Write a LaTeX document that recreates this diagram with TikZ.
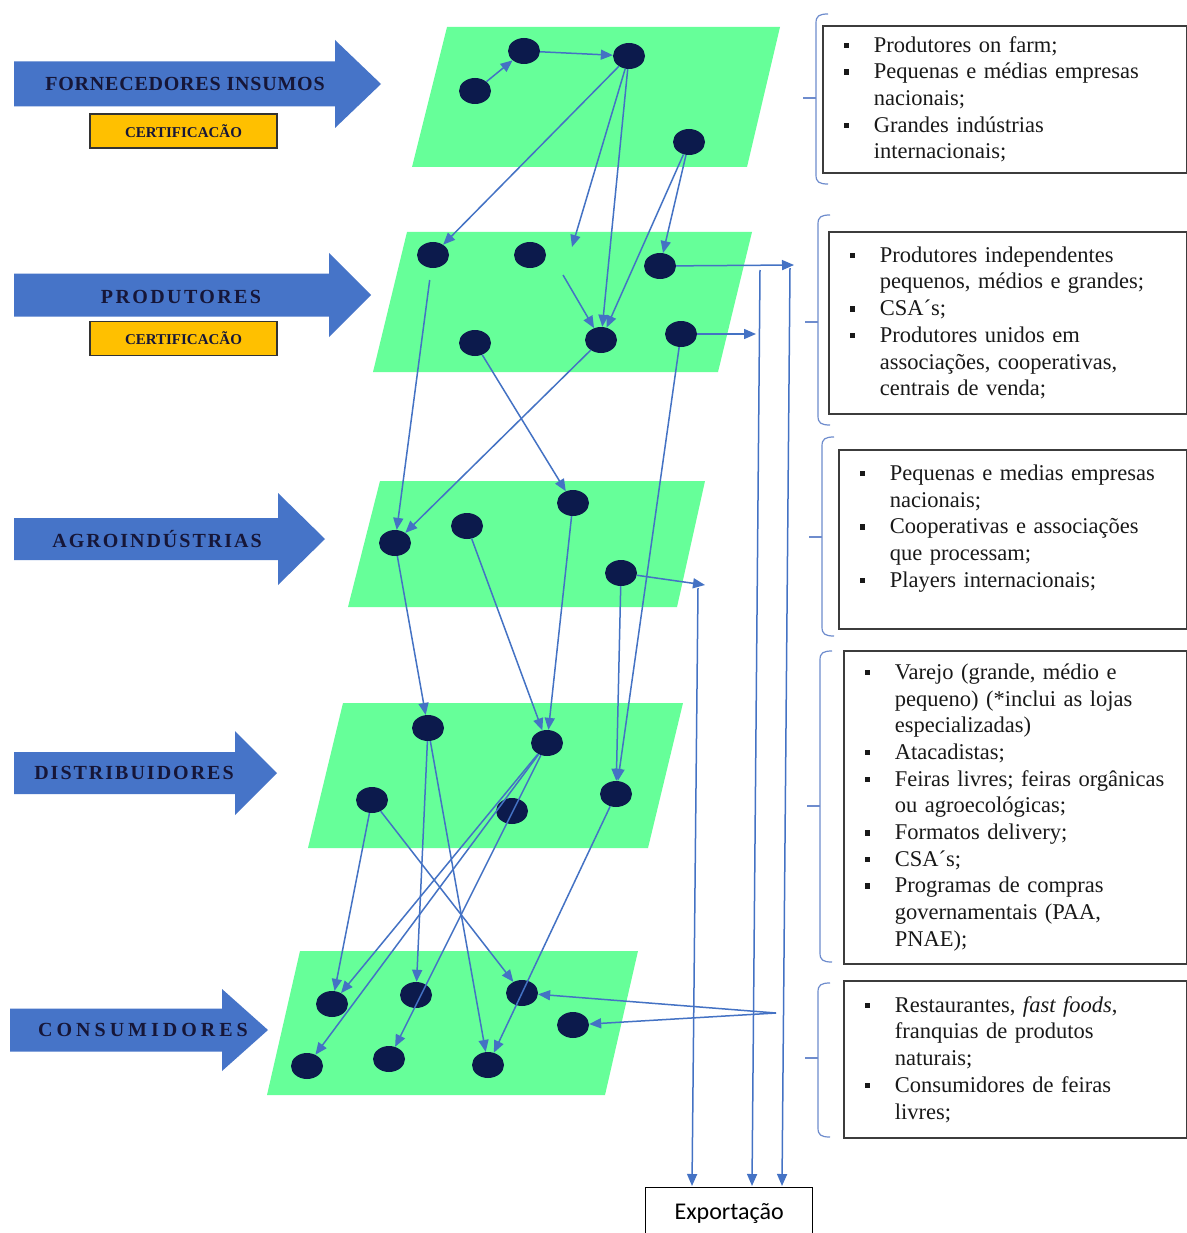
\documentclass[tikz,border=0pt]{standalone}
\usepackage{fontspec}
\setmainfont{Liberation Serif}
\newfontfamily\expfont{Carlito}
\usetikzlibrary{arrows.meta,shapes.geometric}

\definecolor{plategreen}{RGB}{102,255,153}
\definecolor{dotnavy}{RGB}{12,26,76}
\definecolor{linkblue}{RGB}{68,114,196}
\definecolor{arrowblue}{RGB}{70,116,200}
\definecolor{certorange}{RGB}{255,192,0}
\definecolor{bracecol}{RGB}{110,140,205}
\definecolor{labelnavy}{RGB}{22,22,56}
\definecolor{boxedge}{RGB}{60,60,60}

\tikzset{
  plate/.style={fill=plategreen},
  dot/.style={ellipse, fill=dotnavy, minimum width=32pt, minimum height=26pt, inner sep=0pt},
  link/.style={draw=linkblue, line width=1.5pt, -{Triangle[length=12pt,width=10pt]}},
  stagelabel/.style={font=\fontsize{20}{24}\selectfont\bfseries, text=labelnavy, inner sep=0pt},
  cert/.style={draw=black!80, line width=1.2pt, fill=certorange, minimum width=187pt, minimum height=34pt,
    font=\fontsize{15}{18}\selectfont\bfseries, text=labelnavy, inner sep=0pt},
  listbox/.style={draw=boxedge, line width=1.8pt, anchor=north west, align=left, inner xsep=21pt,
    inner ysep=0pt, font=\fontsize{22.5}{26.7}\selectfont, text=black!90},
  brace/.style={draw=bracecol, line width=1.2pt},
}

% bullet and hanging indent for the lists
\newcommand{\bul}{\makebox[30pt][l]{\raisebox{4pt}{\rule{5.5pt}{5.5pt}}}}
\newcommand{\ind}{\hspace*{30pt}}
% letter spaced caps
\newcommand{\spaced}[2]{{\addfontfeature{LetterSpace=#1}#2}}
% block arrow: left x, head base x, tip x, mid y, body half, head half
\newcommand{\stagearrow}[6]{%
  \fill[arrowblue] (#1,#4-#5) -- (#2,#4-#5) -- (#2,#4-#6) -- (#3,#4) -- (#2,#4+#6) -- (#2,#4+#5) -- (#1,#4+#5) -- cycle;}
% side bracket: x, top, bottom, tick y
\newcommand{\sidebrace}[4]{%
  \draw[brace] (#1+12,#2) .. controls (#1+3,#2) and (#1,#2+2) .. (#1,#2+9) -- (#1,#3-9)
    .. controls (#1,#3-2) and (#1+3,#3) .. (#1+12,#3);
  \draw[brace] (#1,#4) -- (#1-13,#4);}

\begin{document}
\begin{tikzpicture}[x=1pt,y=-1pt]
\useasboundingbox (0,0) rectangle (1186,1233);
\fill[white] (0,0) rectangle (1186,1233);

%Stage arrows
\stagearrow{14}{335}{381}{84}{22.5}{44}
\stagearrow{14}{329}{371}{295}{21.5}{42}
\stagearrow{14}{278}{325}{539}{21}{46}
\stagearrow{14}{235}{277}{773}{21}{42}
\stagearrow{10}{222}{268}{1030}{21.5}{41}
\node[stagelabel] (lforn) at (185,84) {\spaced{4}{FORNECEDORES INSUMOS}};
\node[stagelabel] (lprod) at (181,297) {\spaced{12}{PRODUTORES}};
\node[stagelabel] (lagro) at (157,539) {\spaced{10}{AGROINDÚSTRIAS}};
\node[stagelabel] (ldist) at (134,773) {\spaced{10}{DISTRIBUIDORES}};
\node[stagelabel] (lcons) at (143,1030) {\spaced{20}{CONSUMIDORES}};
\node[cert] (cert1) at (183.5,131) {CERTIFICACÃO};
\node[cert] (cert2) at (183.5,338.5) {CERTIFICACÃO};

%Plates
\fill[plate] (447,27) -- (780,27) -- (747,167) -- (412,167) -- cycle;
\fill[plate] (407,232) -- (752,232) -- (718,372) -- (373,372) -- cycle;
\fill[plate] (380,481) -- (705,481) -- (677,607) -- (348,607) -- cycle;
\fill[plate] (343,703) -- (683,703) -- (648,848) -- (308,848) -- cycle;
\fill[plate] (300,951) -- (638,951) -- (605,1095) -- (267,1095) -- cycle;

%Dots: fornecedores
\node[dot] (a1) at (475,91) {};
\node[dot] (a2) at (524,51) {};
\node[dot] (a3) at (629,56) {};
\node[dot] (a4) at (689,142) {};
%Dots: produtores
\node[dot] (b1) at (433,255) {};
\node[dot] (b2) at (530,255) {};
\node[dot] (b3) at (660,266) {};
\node[dot] (b4) at (475,343) {};
\node[dot] (b5) at (601,340) {};
\node[dot] (b6) at (681,334) {};
%Dots: agroindustrias
\node[dot] (c1) at (395,543) {};
\node[dot] (c2) at (467,526) {};
\node[dot] (c3) at (573,503) {};
\node[dot] (c4) at (621,573) {};
%Dots: distribuidores
\node[dot] (d1) at (428,728) {};
\node[dot] (d2) at (547,743) {};
\node[dot] (d3) at (372,800) {};
\node[dot] (d4) at (512,811) {};
\node[dot] (d5) at (616,794) {};
%Dots: consumidores
\node[dot] (e1) at (332,1004) {};
\node[dot] (e2) at (416,995) {};
\node[dot] (e3) at (522,993) {};
\node[dot] (e4) at (573,1025) {};
\node[dot] (e5) at (307,1066) {};
\node[dot] (e6) at (389,1059) {};
\node[dot] (e7) at (488,1065) {};

%Free ends
\coordinate (gapin) at (572,247);
\coordinate (gapout) at (563,275);
\coordinate (b3out) at (794,265);
\coordinate (b6out) at (756,334);
\coordinate (c4out) at (705,585);
\coordinate (b3down) at (790,268);
\coordinate (b6down) at (760,270);
\coordinate (c4down) at (698,588);
\coordinate (feira) at (776,1013);

%Exportacao
\node[draw=black, line width=1.3pt, anchor=north west, minimum width=167pt, minimum height=52pt,
  inner sep=0pt, font=\expfont\fontsize{24}{28}\selectfont] (exp) at (645,1187) {Exportação};
\coordinate (expA) at (692,1186);
\coordinate (expB) at (752,1186);
\coordinate (expC) at (782,1186);

%Connectors
\draw[link] (a1) -- (a2);
\draw[link] (a2) -- (a3);
\draw[link] (a3) -- (b1);
\draw[link] (a3) -- (gapin);
\draw[link] (a3) -- (b5);
\draw[link] (a4) -- (b3);
\draw[link] (a4) -- (b5);
\draw[link] (gapout) -- (b5);
\draw[link, shorten <=12pt] (b1) -- (c1);
\draw[link] (b4) -- (c3);
\draw[link] (b5) -- (c1);
\draw[link] (b6) -- (d5);
\draw[link] (b3) -- (b3out);
\draw[link] (b6) -- (b6out);
\draw[link] (c1) -- (d1);
\draw[link] (c2) -- (d2);
\draw[link] (c3) -- (d2);
\draw[link] (c4) -- (d5);
\draw[link] (c4) -- (c4out);
\draw[link] (d1) -- (e2);
\draw[link] (d1) -- (e7);
\draw[link] (d3) -- (e1);
\draw[link] (d3) -- (e3);
\draw[link] (d2) -- (e1);
\draw[link] (d2) -- (e5);
\draw[link] (d2) -- (e6);
\draw[link] (d5) -- (e7);
\draw[link] (feira) -- (e3);
\draw[link] (feira) -- (e4);
\draw[link] (c4down) -- (expA);
\draw[link] (b6down) -- (expB);
\draw[link] (b3down) -- (expC);

%Brackets
\sidebrace{816}{14}{184}{98}
\sidebrace{818}{215}{425}{322}
\sidebrace{822}{437}{636}{537}
\sidebrace{820}{651}{962}{806}
\sidebrace{818}{983}{1137}{1058}

%Lists
\node[listbox, text width=322pt, minimum height=147pt] (lsforn) at (822,25)
  {\bul Produtores on farm;\\ \bul Pequenas e médias empresas\\ \ind nacionais;\\
   \bul Grandes indústrias\\ \ind internacionais;};
\node[listbox, text width=316pt, minimum height=182pt] (lsprod) at (828,231)
  {\bul Produtores independentes\\ \ind pequenos, médios e grandes;\\ \bul CSA´s;\\
   \bul Produtores unidos em\\ \ind associações, cooperativas,\\ \ind centrais de venda;};
\node[listbox, text width=306pt, minimum height=179pt] (lsagro) at (838,449)
  {\bul Pequenas e medias empresas\\ \ind nacionais;\\ \bul Cooperativas e associações\\
   \ind que processam;\\ \bul Players internacionais;\\ \mbox{}};
\node[listbox, text width=301pt, minimum height=313pt] (lsdist) at (843,650)
  {\bul Varejo (grande, médio e\\ \ind pequeno) (*inclui as lojas\\ \ind especializadas)\\
   \bul Atacadistas;\\ \bul Feiras livres; feiras orgânicas\\ \ind ou agroecológicas;\\
   \bul Formatos delivery;\\ \bul CSA´s;\\ \bul Programas de compras\\
   \ind governamentais (PAA,\\ \ind PNAE);};
\node[listbox, text width=301pt, minimum height=157pt] (lscons) at (843,980)
  {\bul Restaurantes, \textit{fast foods},\\ \ind franquias de produtos\\ \ind naturais;\\
   \bul Consumidores de feiras\\ \ind livres;};
\end{tikzpicture}
\end{document}
